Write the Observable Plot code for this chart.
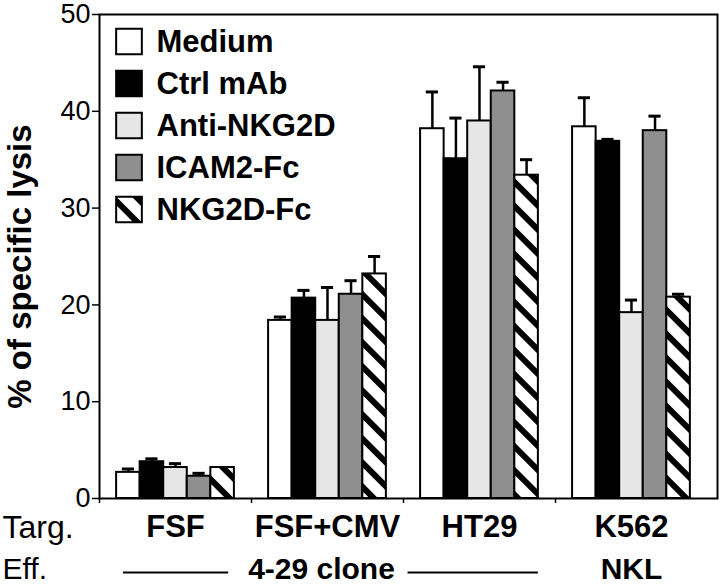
<!DOCTYPE html>
<html>
<head>
<meta charset="utf-8">
<script src="https://cdn.jsdelivr.net/npm/d3@7"></script>
<script src="https://cdn.jsdelivr.net/npm/@observablehq/plot@0.6"></script>
<style>
  html, body { margin: 0; padding: 0; background: white; }
  #chart { width: 720px; height: 585px; }
</style>
</head>
<body>
<div id="chart"></div>
<script>
// ---- data ----
const groups = ["FSF", "FSF+CMV", "HT29", "K562"];
const treatments = ["Medium", "Ctrl mAb", "Anti-NKG2D", "ICAM2-Fc", "NKG2D-Fc"];
const lysisFSF    = [2.7, 3.8, 3.2, 2.3, 3.2];
const lysisFSFCMV = [18.4, 20.7, 18.4, 21.1, 23.2];
const lysisHT29   = [38.2, 35.1, 39.0, 42.1, 33.4];
const lysisK562   = [38.4, 36.9, 19.2, 38.0, 20.8];
const errFSF    = [0.35, 0.3, 0.4, 0.3, 0];
const errFSFCMV = [0.35, 0.8, 3.4, 1.4, 1.8];
const errHT29   = [3.8, 4.2, 5.6, 0.9, 1.6];
const errK562   = [3.0, 0.2, 1.3, 1.5, 0.3];
const yTicks = [0, 10, 20, 30, 40, 50];
const targetLabel = "Targ.";
const effectorLabel = "Eff.";
const effectorNames = ["4-29 clone", "NKL"];
const fills = ["white", "black", "#e6e6e6", "#8f8f8f", "url(#hatch)"];

// ---- build table ----
const lysis = [lysisFSF, lysisFSFCMV, lysisHT29, lysisK562];
const errs = [errFSF, errFSFCMV, errHT29, errK562];
const W = 0.155; // bar width in group units
const rows = [];
groups.forEach((g, gi) => treatments.forEach((t, ti) => {
  const x1 = gi + (ti - 2.5) * W;
  rows.push({group: g, gi, treatment: t, ti, value: lysis[gi][ti], err: errs[gi][ti],
             x1, x2: x1 + W, xc: x1 + W / 2});
}));
const errRows = rows.filter(d => d.err > 0);

const font = "'Liberation Sans', Arial, Helvetica, sans-serif";

// legend marks (inside frame, top-left)
const legendMarks = [];
treatments.forEach((t, i) => {
  legendMarks.push(Plot.dot([t], {frameAnchor: "top-left", dx: 29.5, dy: 27 + i * 42,
    symbol: "square", r: 14.5, fill: d => d, stroke: "black", strokeWidth: 2}));
  legendMarks.push(Plot.text([t], {frameAnchor: "top-left", dx: 57, dy: 28 + i * 42, lineAnchor: "middle",
    text: d => d, textAnchor: "start", fontWeight: "bold", fontSize: 31, fill: "black"}));
});

const chart = Plot.plot({
  width: 720,
  height: 585,
  marginLeft: 99,
  marginRight: 3,
  marginTop: 14,
  marginBottom: 87,
  style: {fontFamily: font, background: "white", color: "black"},
  x: {domain: [-0.5, 3.566], axis: null},
  y: {domain: [0, 50], axis: null},
  color: {type: "ordinal", domain: treatments, range: fills},
  marks: [
    Plot.axisY({ticks: yTicks, tickSize: 7, tickPadding: 2, fontSize: 27, label: null, strokeWidth: 1.5}),
    Plot.axisX({ticks: [-0.5, 0.5, 1.5, 2.5], tickFormat: () => "", tickSize: 5, label: null, strokeWidth: 1.5}),
    Plot.rectY(rows, {x1: "x1", x2: "x2", y1: 0, y2: "value", fill: "treatment", stroke: "black", strokeWidth: 2}),
    Plot.ruleX(errRows, {x: "xc", y1: "value", y2: d => d.value + d.err, stroke: "black", strokeWidth: 2.5}),
    Plot.ruleY(errRows, {y: d => d.value + d.err, x1: d => d.xc - 0.04, x2: d => d.xc + 0.04, stroke: "black", strokeWidth: 3}),
    Plot.frame({stroke: "black", strokeWidth: 2}),
    ...legendMarks,
    // y axis title
    Plot.text(["% of specific lysis"], {frameAnchor: "left", text: d => d, rotate: -90, textAnchor: "middle",
      dx: -79, dy: 10, fontWeight: "bold", fontSize: 33, fill: "black"}),
    // target labels
    Plot.text(groups, {x: (d, i) => i, text: d => d, frameAnchor: "bottom", lineAnchor: "middle", dy: 29,
      fontWeight: "bold", fontSize: 31, fill: "black"}),
    Plot.text([targetLabel], {frameAnchor: "bottom-left", lineAnchor: "middle", text: d => d, textAnchor: "start",
      dx: -97, dy: 29, fontSize: 32, fill: "black"}),
    // effector row
    Plot.text([effectorLabel], {frameAnchor: "bottom-left", lineAnchor: "middle", text: d => d, textAnchor: "start",
      dx: -97, dy: 71, fontSize: 30, fill: "black"}),
    Plot.text([effectorNames[0]], {x: 1, text: d => d, frameAnchor: "bottom", lineAnchor: "middle", dx: -6, dy: 71,
      fontWeight: "bold", fontSize: 30, fill: "black"}),
    Plot.text([effectorNames[1]], {x: 3, text: d => d, frameAnchor: "bottom", lineAnchor: "middle", dy: 71,
      fontWeight: "bold", fontSize: 30, fill: "black"}),
    Plot.ruleY([{a: -2.5 * W + 0.045, b: 0.35}, {a: 1.53, b: 2 + 2.5 * W}],
      {y: 0, x1: "a", x2: "b", dy: 74, stroke: "black", strokeWidth: 2})
  ]
});

// hatch pattern definition
const ns = "http://www.w3.org/2000/svg";
const svg = chart.tagName.toLowerCase() === "svg" ? chart : chart.querySelector("svg");
const defs = document.createElementNS(ns, "defs");
defs.innerHTML = `<pattern id="hatch" patternUnits="userSpaceOnUse" width="17" height="17" patternTransform="rotate(45)">
  <rect width="17" height="17" fill="white"></rect>
  <rect width="17" height="6" fill="black"></rect>
</pattern>`;
svg.insertBefore(defs, svg.firstChild);

document.getElementById("chart").appendChild(chart);
</script>
</body>
</html>
